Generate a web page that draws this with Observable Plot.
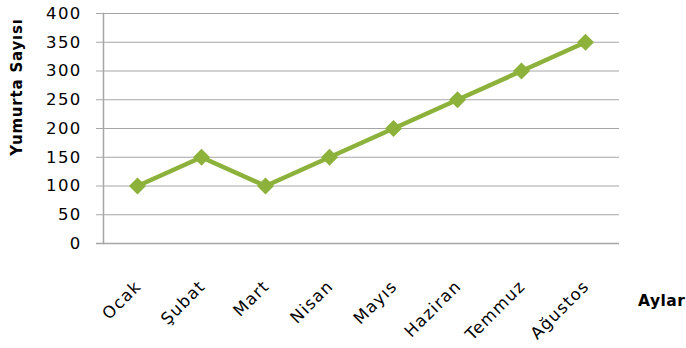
<!DOCTYPE html>
<html><head><meta charset="utf-8">
<script src="https://cdn.jsdelivr.net/npm/d3@7"></script>
<script src="https://cdn.jsdelivr.net/npm/@observablehq/plot@0.6"></script>
<style>body{margin:0;background:#fff}</style>
</head><body><div id="chart"></div>
<script>
const months = ["Ocak","Şubat","Mart","Nisan","Mayıs","Haziran","Temmuz","Ağustos"];
const eggs = [100,150,100,150,200,250,300,350];
const yTicks = [0,50,100,150,200,250,300,350,400];
const yTitle = "Yumurta Sayısı";
const xTitle = "Aylar";
const data = months.map((m,i)=>({month:m, value:eggs[i]}));
const green = "#8cb23b";
const gray = "#a6a6a6";
const font = "DejaVu Sans, sans-serif";

const chart = Plot.plot({
  width: 686, height: 348,
  marginLeft: 103, marginRight: 67, marginTop: 13, marginBottom: 105,
  style: {fontFamily: font, fontSize: "16.5px", color: "#000", background: "#fff", letterSpacing: "1.3px"},
  x: {type: "band", domain: months, padding: 0},
  y: {domain: [0,400]},
  marks: [
    Plot.gridY(yTicks, {stroke: gray, strokeOpacity: 1, strokeWidth: 1.2}),
    Plot.axisY(yTicks, {tickSize: 7, tickPadding: 15, stroke: gray, label: null, tickFormat: d => d, fill: "#000"}),
    Plot.axisX({tickSize: 0, tickPadding: 40, tickRotate: -45, label: null, dx: 1, fill: "#000"}),
    Plot.frame({anchor: "left", stroke: gray, strokeWidth: 1.5}),
    Plot.ruleY([0], {stroke: gray, strokeWidth: 1.5, insetLeft: -7}),
    Plot.line(data, {x: "month", y: "value", stroke: green, strokeWidth: 4.5}),
    Plot.dot(data, {x: "month", y: "value", symbol: "square", r: 6.8, rotate: 45, fill: green, stroke: "none"})
  ]
});
document.getElementById("chart").appendChild(chart);
const svg = d3.select(chart);
svg.append("text").text(yTitle)
  .attr("transform", "translate(22,87) rotate(-90)")
  .attr("text-anchor", "middle").attr("font-weight", "bold")
  .attr("font-family", font).attr("font-size", "15px").attr("letter-spacing", "0.8px");
svg.append("text").text(xTitle)
  .attr("x", 638).attr("y", 306)
  .attr("text-anchor", "start").attr("font-weight", "bold")
  .attr("font-family", font).attr("font-size", "15.5px").attr("letter-spacing", "0.5px");
</script></body></html>
